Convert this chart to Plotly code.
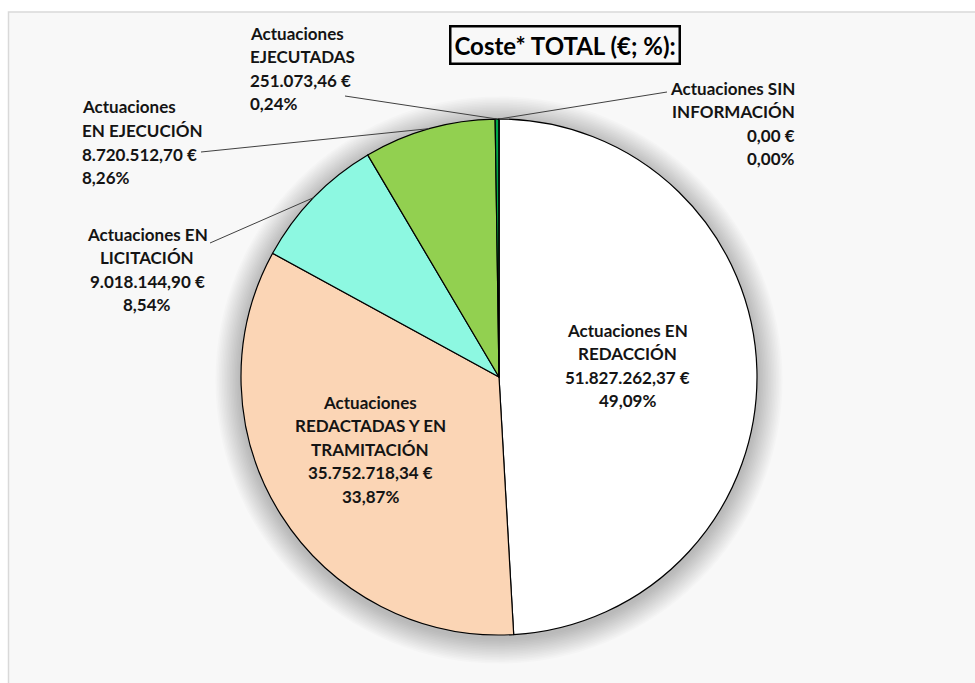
import math
import plotly.graph_objects as go

# ---- data ----
categories = [
    "Actuaciones EN REDACCIÓN",
    "Actuaciones REDACTADAS Y EN TRAMITACIÓN",
    "Actuaciones EN LICITACIÓN",
    "Actuaciones EN EJECUCIÓN",
    "Actuaciones EJECUTADAS",
    "Actuaciones SIN INFORMACIÓN",
]
values = [51827262.37, 35752718.34, 9018144.90, 8720512.70, 251073.46, 0.00]
value_labels = ["51.827.262,37 €", "35.752.718,34 €", "9.018.144,90 €",
                "8.720.512,70 €", "251.073,46 €", "0,00 €"]
pct_labels = ["49,09%", "33,87%", "8,54%", "8,26%", "0,24%", "0,00%"]
name_lines = [
    ["Actuaciones EN", "REDACCIÓN"],
    ["Actuaciones", "REDACTADAS Y EN", "TRAMITACIÓN"],
    ["Actuaciones EN", "LICITACIÓN"],
    ["Actuaciones", "EN EJECUCIÓN"],
    ["Actuaciones", "EJECUTADAS"],
    ["Actuaciones SIN", "INFORMACIÓN"],
]
colors = ["#FFFFFF", "#FBD5B5", "#8DF8E1", "#92D050", "#00A84A", "#1F4E79"]
title_text = "Coste* TOTAL (€; %):"

# ---- layout constants ----
W, H = 975, 683
CX, CY, R = 499, 377, 258
FONT = "Lato"
TXT = "#141414"
LH = 23.6  # label line spacing in px


def px(x, y):
    return x / W, 1 - y / H


# label block placement: (first-line y, x, xanchor, leader-line start or None)
label_place = [
    (330, 627, "center", None),
    (402, 370, "center", None),
    (234, 147, "center", (210, 243)),
    (107, 80, "left", (201, 152)),
    (33, 248, "left", (345, 96)),
    (88, 797, "right", (667, 92)),
]

fig = go.Figure()
fig.add_trace(go.Pie(
    labels=categories, values=values, sort=False, direction="clockwise",
    rotation=0, textinfo="none", hoverinfo="label+value+percent",
    marker=dict(colors=colors, line=dict(color="#000000", width=1.2)),
    domain=dict(x=[(CX - R) / W, (CX + R) / W], y=[1 - (CY + R) / H, 1 - (CY - R) / H]),
    showlegend=False,
))

shapes = []
# chart area background with border
shapes.append(dict(type="rect", xref="paper", yref="paper", x0=8.5 / W, x1=1.05,
                   y0=-0.05, y1=1 - 12 / H, fillcolor="#f8f8f8",
                   line=dict(color="#d9d9d9", width=1.5), layer="below"))
# soft shadow around the pie
for i in range(16, 0, -1):
    rr = R + i * 1.6
    x0, y0 = px(CX - rr, CY + 3 + rr)
    x1, y1 = px(CX + rr, CY + 3 - rr)
    shapes.append(dict(type="circle", xref="paper", yref="paper", x0=x0, x1=x1,
                       y0=y0, y1=y1, fillcolor="rgba(0,0,0,0.015)",
                       line=dict(width=0), layer="below"))

# leader lines to mid-arc of each slice (computed from data)
total = sum(values)
cum = 0.0
mids = []
for v in values:
    mids.append((cum + v / 2) / total)
    cum += v
for i, (fy, lx, anchor, start) in enumerate(label_place):
    if start is None:
        continue
    ang = 2 * math.pi * mids[i]
    ex, ey = CX + R * math.sin(ang), CY - R * math.cos(ang)
    sx, sy = px(*start)
    tx, ty = px(ex, ey)
    shapes.append(dict(type="line", xref="paper", yref="paper", x0=sx, y0=sy,
                       x1=tx, y1=ty, line=dict(color="#404040", width=1)))

annotations = []
for i, (fy, lx, anchor, start) in enumerate(label_place):
    lines = name_lines[i] + [value_labels[i], pct_labels[i]]
    for j, t in enumerate(lines):
        x, y = px(lx, fy + j * LH)
        annotations.append(dict(text=t, x=x, y=y, xref="paper", yref="paper",
                                xanchor=anchor, yanchor="middle", showarrow=False,
                                font=dict(family=FONT, size=17, color=TXT, weight="bold")))

tx, ty = px(565, 45)
annotations.append(dict(text=title_text, x=tx, y=ty, xref="paper", yref="paper",
                        xanchor="center", yanchor="middle", showarrow=False,
                        font=dict(family=FONT, size=24, color="#000000", weight="bold"),
                        bordercolor="#000000", borderwidth=2.5, borderpad=3,
                        bgcolor="rgba(255,255,255,0)"))

fig.update_layout(width=W, height=H, margin=dict(l=0, r=0, t=0, b=0),
                  paper_bgcolor="#ffffff", plot_bgcolor="#ffffff",
                  shapes=shapes, annotations=annotations)
fig.write_html("out.html", config={"displayModeBar": False},
               post_script="document.body.style.margin='0';document.body.style.overflow='hidden';")
